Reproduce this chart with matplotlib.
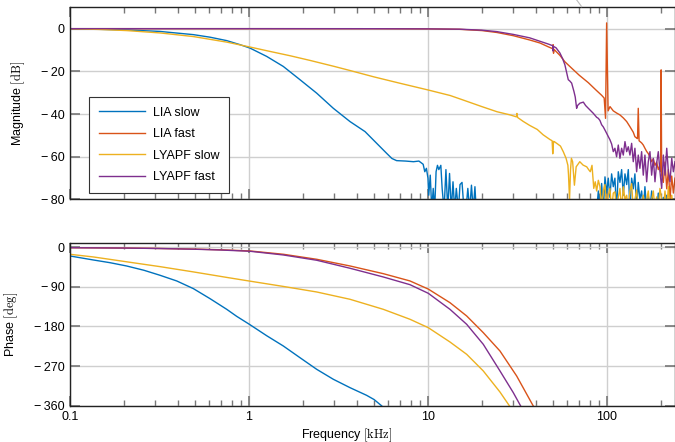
import numpy as np
import matplotlib
matplotlib.use('Agg')
import matplotlib.pyplot as plt
from matplotlib.ticker import FixedLocator, LogLocator, FuncFormatter, NullFormatter
from matplotlib.lines import Line2D

plt.rcParams['font.family'] = ['Liberation Sans', 'DejaVu Sans']
plt.rcParams['mathtext.fontset'] = 'cm'

# ---------------- data (frequency in kHz) ----------------
labels = ['LIA slow', 'LIA fast', 'LYAPF slow', 'LYAPF fast']
colors = ['#0072BD', '#D95319', '#EDB120', '#7E2F8E']

# shared high-frequency grid for the noisy part
f_hf = [87.6, 89.5, 91.4, 93.4, 95.4, 97.5, 99.6, 101.7, 103.9, 106.2, 108.5, 110.8,
        113.2, 115.7, 118.2, 120.8, 123.4, 126.1, 128.9, 131.6, 134.4, 137.4, 140.3,
        143.3, 146.5, 149.6, 152.8, 156.2, 159.6, 163.0, 166.7, 170.2, 173.9, 177.7,
        181.6, 185.5, 189.5, 193.6, 197.8, 202.2, 206.6, 211.0, 215.8, 220.4, 225.0,
        230.1, 235.0, 240.0]

# LIA slow magnitude
lia_slow_f = [0.1, 0.207, 0.318, 0.489, 0.606, 0.751, 0.891, 1.013, 1.256, 1.555, 1.927,
              2.389, 2.96, 3.667, 4.45, 5.06, 5.88, 6.29, 6.68, 7.5, 8.3, 8.9, 9.4, 9.6,
              9.8, 10.0, 10.1, 10.3, 10.5, 10.7, 10.9, 11.1, 11.3, 11.5, 11.8, 12.0,
              12.3, 12.6, 12.9, 13.2, 13.5, 13.8, 14.1, 14.4, 14.8, 15.1, 15.5, 15.9,
              16.3, 16.7, 17.1, 17.5, 17.9, 18.3, 18.6]
lia_slow_db = [0, -0.6, -1.3, -2.8, -4.0, -5.6, -7.5, -9.1, -13.0, -17.7, -23.9, -30.2,
               -37.3, -43.5, -48.2, -52.9, -58.4, -60.8, -61.8, -62.0, -62.3, -62.0,
               -63.5, -67.0, -65.4, -70.0, -78.0, -68.6, -85.0, -74.8, -85.0, -67.0,
               -64.0, -66.0, -64.0, -74.8, -85.0, -66.0, -85.0, -67.8, -85.0, -71.7,
               -85.0, -74.8, -85.0, -73.0, -72.0, -85.0, -85.0, -74.8, -85.0, -73.3,
               -85.0, -74.0, -85.0]
lia_slow_hf_db = [-85, -76, -85, -72.5, -85, -69.4, -77, -70, -79, -68, -74, -70, -85,
                  -67, -72, -66, -78, -68, -73, -66, -85, -70, -75, -68, -85, -72, -80,
                  -76, -85, -74, -85, -78, -85, -76, -85, -80, -85, -77, -85, -85, -79,
                  -85, -78, -85, -85, -80, -85, -85]

# LIA fast magnitude
lia_fast_f = [0.1, 1.0, 5.0, 10.0, 15.0, 20.0, 24.3, 30.0, 37.0, 42.2, 47.0, 49.8, 50.0,
              50.3, 50.6, 54.6, 58.2, 63.5, 70.0, 78.7, 87.0, 93.4, 96.5, 98.2, 99.6,
              101.5, 104.0, 108.5, 113.2, 118.2, 123.4, 128.9, 134.4, 140.3, 143.3,
              146.5, 148.2, 149.6, 151.2, 156.2, 159.6, 163.0, 166.7, 170.2, 173.9,
              177.7, 181.6, 185.5, 189.5, 193.6, 197.8, 199.5, 200.8, 202.2, 206.6,
              211.0, 215.8, 220.4, 225.0, 230.1, 235.0, 240.0]
lia_fast_db = [0, 0, -0.02, -0.1, -0.3, -0.9, -1.8, -3.3, -5.3, -6.7, -8.5, -9.4, -7.5,
               -11.5, -9.7, -12.5, -15.5, -18.5, -21.8, -25.3, -28.8, -31.2, -32.5,
               -42.0, 2.7, -38.5, -36.5, -38.5, -39.5, -40.4, -41.8, -43.5, -45.9,
               -48.5, -50.6, -51.2, -51.5, -37.3, -52.5, -53.5, -54.5, -56.0, -57.5,
               -58.5, -60.0, -62.3, -61.0, -64.0, -62.5, -66.0, -64.0, -67.0, -19.3,
               -68.6, -72.0, -62.5, -75.0, -66.0, -80.0, -69.0, -77.0, -70.0]

# LYAPF slow magnitude
lyapf_slow_f = [0.1, 0.15, 0.207, 0.318, 0.489, 0.751, 1.013, 1.3, 1.7, 2.2, 3.0, 3.667,
                5.0, 7.0, 10.0, 13.3, 15.7, 20.0, 24.3, 28.8, 31.2, 31.4, 31.7, 34.0,
                37.0, 40.8, 44.0, 48.0, 49.4, 49.8, 50.3, 51.0, 53.0, 55.0, 57.0, 59.1,
                60.5, 61.0, 61.8, 62.6, 63.3, 64.3, 65.8, 67.3, 70.5, 73.6, 77.1, 79.0,
                80.7, 82.5, 84.4, 86.0]
lyapf_slow_db = [0, -0.4, -0.9, -2.0, -3.7, -6.3, -8.6, -10.6, -12.7, -14.9, -17.7,
                 -19.6, -22.6, -25.6, -28.7, -31.3, -33.4, -36.5, -38.9, -40.4, -41.3,
                 -39.7, -41.6, -43.4, -45.3, -47.2, -49.7, -51.9, -52.5, -58.6, -52.8,
                 -53.0, -54.0, -55.0, -57.6, -60.7, -64.0, -68.6, -80.0, -66.0, -60.7,
                 -62.3, -73.3, -64.7, -62.3, -63.9, -64.7, -66.0, -67.0, -64.0, -74.8,
                 -71.7]
lyapf_slow_hf_db = [-76, -71, -74, -85, -76, -73, -85, -78, -74.8, -85, -77, -76.4, -85,
                    -79, -74.8, -85, -74, -80, -78, -85, -76, -72.6, -85, -80, -75.6,
                    -85, -80, -85, -78, -85, -80, -76, -85, -80, -76, -85, -78.8, -85,
                    -74.8, -80, -85, -76, -85, -74, -85, -78, -85, -80]

# LYAPF fast magnitude
lyapf_fast_f = [0.1, 1.0, 5.0, 10.0, 15.0, 20.0, 24.3, 30.0, 37.0, 42.2, 47.0, 49.8, 50.0,
                50.3, 52.0, 54.6, 56.5, 58.2, 60.8, 62.0, 63.5, 65.4, 66.5, 67.7, 68.5,
                70.6, 73.8, 76.0, 78.7, 83.8]
lyapf_fast_db = [0, 0, -0.02, -0.1, -0.25, -0.7, -1.4, -2.7, -4.3, -5.9, -7.2, -8.0,
                 -10.5, -8.3, -9.0, -11.4, -14.0, -16.9, -23.9, -24.5, -25.5, -29.4,
                 -32.0, -37.3, -36.0, -34.9, -34.4, -36.0, -37.3, -39.6]
lyapf_fast_hf_db = [-41.5, -42.0, -43.0, -45.0, -46.0, -47.5, -49.0, -50.5, -52.0, -54.0,
                    -57.6, -56.0, -60.0, -54.5, -60.7, -56.0, -59.2, -52.9, -57.6, -55.3,
                    -59.2, -53.7, -62.3, -56.0, -67.0, -59.2, -65.4, -57.6, -68.6, -59.2,
                    -71.7, -62.3, -57.6, -68.6, -60.7, -71.7, -63.1, -57.6, -67.0, -74.8,
                    -59.2, -68.6, -56.0, -67.0, -71.7, -60.7, -67.0, -62.3]

# Phase (deg)
lia_slow_pf = [0.1, 0.135, 0.167, 0.207, 0.259, 0.318, 0.395, 0.489, 0.606, 0.751, 0.854,
               1.0, 1.256, 1.555, 1.927, 2.389, 2.96, 3.667, 4.54, 5.0, 5.5, 5.7]
lia_slow_ph = [-19.8, -28.9, -35.0, -42.5, -52.3, -63.6, -76.6, -94.0, -116.8, -141.0,
               -157.0, -174.5, -201.0, -224.3, -250.9, -277.3, -300.0, -319.0, -336.4,
               -346.0, -360.0, -366.0]
lia_fast_pf = [0.1, 0.2, 0.3, 0.5, 0.7, 1.013, 1.555, 2.389, 3.667, 5.628, 7.93, 10.04,
               13.27, 16.45, 20.37, 25.25, 31.3, 38.76]
lia_fast_ph = [-1.0, -1.8, -2.6, -4.2, -5.8, -8.4, -15.9, -27.3, -42.5, -60.0, -76.5,
               -95.0, -125.9, -156.1, -194.0, -235.7, -292.5, -360.7]
lyapf_slow_pf = [0.1, 0.135, 0.207, 0.318, 0.489, 0.751, 1.013, 1.555, 2.389, 3.667,
                 5.628, 7.93, 10.04, 13.27, 16.45, 20.37, 25.25, 28.7]
lyapf_slow_ph = [-16.0, -22.0, -33.0, -44.0, -56.0, -68.5, -77.0, -89.0, -101.6, -118.2,
                 -141.0, -163.6, -182.7, -215.2, -243.2, -281.0, -328.9, -362.0]
lyapf_fast_pf = [0.1, 0.2, 0.3, 0.5, 0.7, 1.013, 1.555, 2.389, 3.667, 5.628, 7.93, 10.04,
                 13.27, 16.45, 20.37, 25.25, 29.98, 32.96]
lyapf_fast_ph = [-1.0, -1.8, -2.7, -4.5, -6.3, -9.1, -17.5, -29.5, -47.7, -67.5, -85.0,
                 -104.6, -141.0, -175.0, -220.5, -281.0, -330.4, -360.7]

x_ticks = [0.1, 1, 10, 100]
x_ticklabels = ['0.1', '1', '10', '100']
mag_ticks = [0, -20, -40, -60, -80]
ph_ticks = [0, -90, -180, -270, -360]

# ---------------- figure ----------------
W, H = 675, 442
fig = plt.figure(figsize=(W / 100, H / 100), dpi=100)
ax1 = fig.add_axes([70 / W, 1 - 199.5 / H, 605 / W, (199.5 - 7.3) / H])
ax2 = fig.add_axes([70 / W, 1 - 405.7 / H, 605 / W, (405.7 - 243.3) / H])

mag_f = [lia_slow_f + f_hf, lia_fast_f, lyapf_slow_f + f_hf, lyapf_fast_f + f_hf]
mag_v = [lia_slow_db + lia_slow_hf_db, lia_fast_db, lyapf_slow_db + lyapf_slow_hf_db,
         lyapf_fast_db + lyapf_fast_hf_db]
ph_f = [lia_slow_pf, lia_fast_pf, lyapf_slow_pf, lyapf_fast_pf]
ph_v = [lia_slow_ph, lia_fast_ph, lyapf_slow_ph, lyapf_fast_ph]

for f, v, c, lab in zip(mag_f, mag_v, colors, labels):
    ax1.plot(f, v, color=c, lw=1.0, label=lab)
for f, v, c in zip(ph_f, ph_v, colors):
    ax2.plot(f, v, color=c, lw=1.0)


def yfmt(v, pos):
    return '0' if v == 0 else '\u2212\u2009%d' % abs(v)


for ax in (ax1, ax2):
    ax.set_xscale('log')
    ax.set_xlim(0.1, 240)
    ax.xaxis.set_major_locator(FixedLocator(x_ticks))
    ax.xaxis.set_minor_locator(LogLocator(base=10, subs=np.arange(2, 10)))
    ax.xaxis.set_minor_formatter(NullFormatter())
    ax.yaxis.set_major_formatter(FuncFormatter(yfmt))
    ax.grid(True, which='major', color='#cfcfcf', lw=1.0)
    ax.set_axisbelow(True)
    ax.tick_params(which='both', direction='in', top=True, right=True,
                   color='#777777', labelsize=9, pad=4)
    ax.tick_params(which='major', length=7, width=1.2)
    ax.tick_params(which='minor', length=4.5, width=1.0)
    for s in ax.spines.values():
        s.set_color('#222222')
        s.set_linewidth(1.0)

ax1.set_ylim(-80, 10)
ax1.yaxis.set_major_locator(FixedLocator(mag_ticks))
ax1.xaxis.set_major_formatter(NullFormatter())
ax2.set_ylim(-360, 9)
ax2.yaxis.set_major_locator(FixedLocator(ph_ticks))
ax2.set_xticklabels(x_ticklabels)

ax1.set_ylabel(r'Magnitude $[\mathrm{dB}]$', fontsize=9)
ax1.yaxis.set_label_coords(-0.071, 0.5)
ax2.set_ylabel(r'Phase $[\mathrm{deg}]$', fontsize=9)
ax2.yaxis.set_label_coords(-0.083, 0.5)
ax2.set_xlabel(r'Frequency $[\mathrm{kHz}]$', fontsize=9)
ax2.xaxis.set_label_coords(0.458, -0.125)

leg = ax1.legend(loc='lower left', bbox_to_anchor=(0.0314, 0.034), borderaxespad=0,
                 fontsize=9, fancybox=False, framealpha=1, edgecolor='#333333',
                 handlelength=3.7, handletextpad=0.6, labelspacing=0.75,
                 borderpad=0.8)
leg.get_frame().set_linewidth(0.8)

fig.add_artist(Line2D([576.7 / W, 581.7 / W], [1.0, 1 - 6.7 / H], color='#bbbbbb', lw=0.8))

fig.savefig('out.png', dpi=100)
